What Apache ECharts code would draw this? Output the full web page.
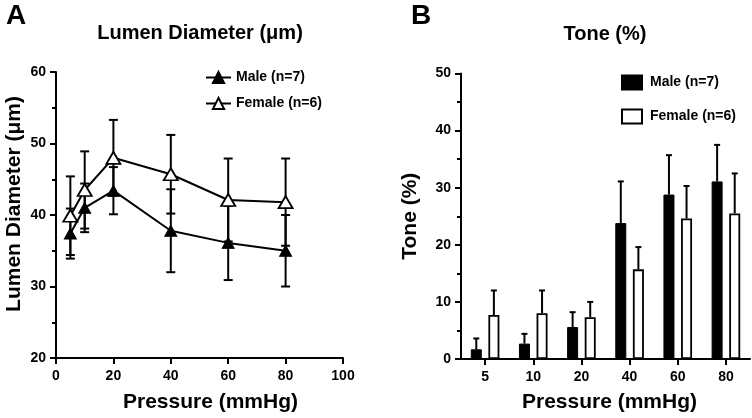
<!DOCTYPE html>
<html>
<head>
<meta charset="utf-8">
<script src="https://cdn.jsdelivr.net/npm/echarts@6/dist/echarts.min.js"></script>
<style>html,body{margin:0;padding:0;background:#fff}#c{width:752px;height:418px}</style>
</head>
<body>
<div id="c"></div>
<script>
// Panel A: Lumen diameter (µm) vs pressure
const pressureA = [5, 10, 20, 40, 60, 80];
const maleDiam = [37.4, 41.0, 43.4, 37.8, 36.1, 35.0];
const maleDiamSem = [3.5, 3.4, 3.3, 5.8, 5.2, 5.0];
const femaleDiam = [39.9, 43.5, 48.0, 45.7, 42.1, 41.8];
const femaleDiamSem = [5.5, 5.4, 5.3, 5.5, 5.8, 6.1];
// Panel B: Tone (%)
const pressureB = ['5', '10', '20', '40', '60', '80'];
const maleTone = [1.7, 2.7, 5.6, 23.8, 28.8, 31.1];
const maleToneSem = [1.9, 1.7, 2.6, 7.3, 6.9, 6.4];
const femaleTone = [7.7, 8.0, 7.3, 15.7, 24.6, 25.5];
const femaleToneSem = [4.3, 4.0, 2.7, 3.9, 5.7, 7.0];
const legendLabels = {mA: 'Male (n=7)', fA: 'Female (n=6)', mB: 'Male (n=7)', fB: 'Female (n=6)'};

const FONT = "'Liberation Sans', Arial, Helvetica, sans-serif";
const chart = echarts.init(document.getElementById('c'), null, {renderer: 'canvas'});

function errA(xs, ys, es) { return xs.map((x, i) => [x, ys[i] - es[i], ys[i] + es[i]]); }
function errB(ys, es) { return ys.map((y, i) => [i, y, y + es[i]]); }

function renderErrA(params, api) {
  const x = api.value(0);
  const p0 = api.coord([x, api.value(1)]);
  const p1 = api.coord([x, api.value(2)]);
  const hw = 4.5;
  const st = {stroke: '#000', lineWidth: 2};
  return {type: 'group', children: [
    {type: 'line', shape: {x1: p0[0], y1: p0[1], x2: p1[0], y2: p1[1]}, style: st},
    {type: 'line', shape: {x1: p0[0] - hw, y1: p0[1], x2: p0[0] + hw, y2: p0[1]}, style: st},
    {type: 'line', shape: {x1: p1[0] - hw, y1: p1[1], x2: p1[0] + hw, y2: p1[1]}, style: st}
  ]};
}
function makeRenderErrB(offset) {
  return function (params, api) {
    const c = api.value(0);
    const p0 = api.coord([c, api.value(1)]);
    const p1 = api.coord([c, api.value(2)]);
    const x = p0[0] + offset;
    const hw = 3;
    const st = {stroke: '#000', lineWidth: 2};
    return {type: 'group', children: [
      {type: 'line', shape: {x1: x, y1: p0[1], x2: x, y2: p1[1]}, style: st},
      {type: 'line', shape: {x1: x - hw, y1: p1[1], x2: x + hw, y2: p1[1]}, style: st}
    ]};
  };
}

const axisLine = {show: true, lineStyle: {color: '#000', width: 2}};
const axisLabel = {color: '#000', fontSize: 14, fontWeight: 'bold', fontFamily: FONT};
const nameStyle = {color: '#000', fontSize: 21, fontWeight: 'bold', fontFamily: FONT};
const panelLetter = {fontSize: 28, fontWeight: 'bold', color: '#000', fontFamily: FONT};
const titleStyle = {fontSize: 20, fontWeight: 'bold', color: '#000', fontFamily: FONT};

const option = {
  animation: false,
  textStyle: {fontFamily: FONT},
  title: [
    {text: 'A', left: 1, top: -3, textStyle: panelLetter},
    {text: 'B', left: 406, top: -3, textStyle: panelLetter},
    {text: 'Lumen Diameter (μm)', left: 195, top: 18, textAlign: 'center', textStyle: titleStyle},
    {text: 'Tone (%)', left: 600, top: 19, textAlign: 'center', textStyle: titleStyle}
  ],
  legend: [
    {data: ['mA', 'fA'], orient: 'vertical', left: 200, top: 65.5, itemWidth: 25, itemHeight: 14, itemGap: 12,
     formatter: n => legendLabels[n], textStyle: {fontSize: 14, fontWeight: 'bold', color: '#000', fontFamily: FONT}},
    {data: [{name: 'mB', icon: 'rect'}, {name: 'fB', icon: 'rect'}], orient: 'vertical', left: 616, top: 69.5,
     itemWidth: 20, itemHeight: 14, itemGap: 18,
     formatter: n => legendLabels[n], textStyle: {fontSize: 14, fontWeight: 'bold', color: '#000', fontFamily: FONT, padding: [0, 0, 0, 3]}}
  ],
  grid: [
    {left: 56, top: 72, width: 287, height: 287},
    {left: 461, top: 73.5, width: 289, height: 288}
  ],
  xAxis: [
    {type: 'value', gridIndex: 0, min: 0, max: 100, interval: 20,
     axisLine: axisLine, axisTick: {show: true, length: 6, lineStyle: {color: '#000', width: 2}},
     axisLabel: Object.assign({margin: 11}, axisLabel), splitLine: {show: false},
     name: 'Pressure (mmHg)', nameLocation: 'middle', nameGap: 34, nameTextStyle: Object.assign({padding: [0, 0, 0, 22]}, nameStyle)},
    {type: 'category', gridIndex: 1, data: pressureB,
     axisLine: axisLine, axisTick: {show: true, alignWithLabel: true, length: 6, lineStyle: {color: '#000', width: 2}},
     axisLabel: Object.assign({margin: 11}, axisLabel),
     name: 'Pressure (mmHg)', nameLocation: 'middle', nameGap: 33, nameTextStyle: Object.assign({padding: [0, 0, 0, 8]}, nameStyle)}
  ],
  yAxis: [
    {type: 'value', gridIndex: 0, min: 20, max: 60, interval: 10,
     axisLine: axisLine, axisTick: {show: true, length: 6, lineStyle: {color: '#000', width: 2}},
     minorTick: {show: true, splitNumber: 2, length: 4, lineStyle: {color: '#000', width: 2}},
     axisLabel: Object.assign({margin: 10}, axisLabel), splitLine: {show: false},
     name: 'Lumen Diameter (μm)', nameLocation: 'middle', nameGap: 31, nameTextStyle: Object.assign({padding: [0, 0, 0, 22]}, nameStyle)},
    {type: 'value', gridIndex: 1, min: 0, max: 50, interval: 10,
     axisLine: axisLine, axisTick: {show: true, length: 6, lineStyle: {color: '#000', width: 2}},
     minorTick: {show: true, splitNumber: 2, length: 4, lineStyle: {color: '#000', width: 2}},
     axisLabel: Object.assign({margin: 10}, axisLabel), splitLine: {show: false},
     name: 'Tone (%)', nameLocation: 'middle', nameGap: 40, nameTextStyle: nameStyle}
  ],
  series: [
    {type: 'custom', name: 'errMA', xAxisIndex: 0, yAxisIndex: 0, z: 1, renderItem: renderErrA,
     data: errA(pressureA, maleDiam, maleDiamSem)},
    {type: 'custom', name: 'errFA', xAxisIndex: 0, yAxisIndex: 0, z: 1, renderItem: renderErrA,
     data: errA(pressureA, femaleDiam, femaleDiamSem)},
    {type: 'line', name: 'mA', xAxisIndex: 0, yAxisIndex: 0, z: 3,
     data: pressureA.map((x, i) => [x, maleDiam[i]]),
     symbol: 'triangle', symbolSize: [12, 11],
     lineStyle: {color: '#000', width: 2}, itemStyle: {color: '#000', borderColor: '#000', borderWidth: 1}},
    {type: 'line', name: 'fA', xAxisIndex: 0, yAxisIndex: 0, z: 3,
     data: pressureA.map((x, i) => [x, femaleDiam[i]]),
     symbol: 'triangle', symbolSize: [14, 12],
     lineStyle: {color: '#000', width: 2}, itemStyle: {color: '#fff', borderColor: '#000', borderWidth: 1.8}},
    {type: 'bar', name: 'mB', xAxisIndex: 1, yAxisIndex: 1, data: maleTone, barWidth: 11, barGap: '60%',
     itemStyle: {color: '#000', borderColor: '#000', borderWidth: 1}},
    {type: 'bar', name: 'fB', xAxisIndex: 1, yAxisIndex: 1, data: femaleTone, barWidth: 11,
     itemStyle: {color: '#fff', borderColor: '#000', borderWidth: 1.8}},
    {type: 'custom', name: 'errMB', xAxisIndex: 1, yAxisIndex: 1, z: 1, renderItem: makeRenderErrB(-8.8),
     data: errB(maleTone, maleToneSem)},
    {type: 'custom', name: 'errFB', xAxisIndex: 1, yAxisIndex: 1, z: 1, renderItem: makeRenderErrB(8.8),
     data: errB(femaleTone, femaleToneSem)}
  ]
};
chart.setOption(option);
</script>
</body>
</html>
